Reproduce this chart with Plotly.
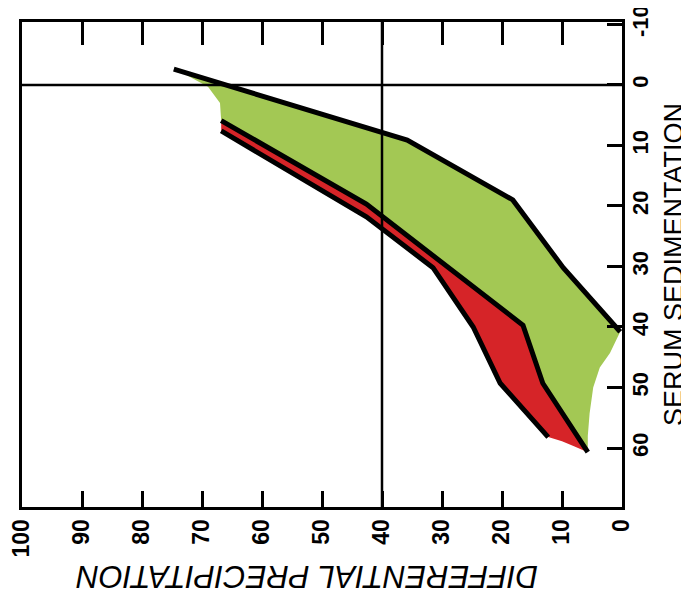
import plotly.graph_objects as go

# ---- data (precipitation %, serum sedimentation) ----
upper_p = [74.7, 35.8, 18.2, 9.8, 0.3]
upper_s = [-2.6, 9.1, 19.0, 30.2, 40.8]

mid_p = [66.8, 42.6, 16.5, 13.2, 5.7]
mid_s = [5.9, 19.7, 39.7, 49.3, 60.7]

low_p = [66.8, 42.6, 31.5, 24.8, 20.3, 12.3]
low_s = [7.6, 21.8, 30.2, 40.0, 49.3, 58.2]

green_left_p = [73.3, 69.0, 67.0]
green_left_s = [-2.0, 0.3, 3.0]
green_right_p = [2.0, 3.7, 4.8, 5.4, 5.7]
green_right_s = [44.3, 46.7, 50.0, 54.3, 58.0]
red_end_p = [10.0, 8.0]
red_end_s = [58.9, 59.7]

x_ticks = list(range(0, 101, 10))
y_ticks = list(range(-10, 61, 10))
y_ticktext = [str(v) for v in y_ticks]
ref_p = 40
ref_s = 0

GREEN = "rgb(163,200,84)"
RED = "rgb(214,36,40)"

gx = [green_left_p[0]] + upper_p[1:] + green_right_p + mid_p[::-1] + green_left_p[::-1][:-1]
gy = [green_left_s[0]] + upper_s[1:] + green_right_s + mid_s[::-1] + green_left_s[::-1][:-1]

rx = mid_p + red_end_p[::-1] + low_p[::-1]
ry = mid_s + red_end_s[::-1] + low_s[::-1]

fig = go.Figure()
fig.add_trace(go.Scatter(x=gx, y=gy, fill="toself", fillcolor=GREEN, mode="none", hoverinfo="skip"))
fig.add_trace(go.Scatter(x=rx, y=ry, fill="toself", fillcolor=RED, mode="none", hoverinfo="skip"))
for px, sy in [(upper_p, upper_s), (mid_p, mid_s), (low_p, low_s)]:
    fig.add_trace(go.Scatter(x=px, y=sy, mode="lines",
                             line=dict(color="black", width=5), hoverinfo="skip"))
fig.add_trace(go.Scatter(x=[None], y=[None], xaxis="x2", mode="lines", hoverinfo="skip"))

fig.add_vline(x=ref_p, line=dict(color="black", width=2.5), layer="above")
fig.add_hline(y=ref_s, line=dict(color="black", width=2.5), layer="above")

fnt = "Liberation Sans, Arial, sans-serif"
# page body has an 8px margin: figure is sized so it ends at the window edge
fig.update_layout(
    width=681, height=588,
    margin=dict(l=14, r=67, t=14, b=89),
    paper_bgcolor="white", plot_bgcolor="white",
    showlegend=False,
    xaxis=dict(range=[100, 0], tickvals=x_ticks, ticks="inside", ticklen=16,
               tickwidth=3, tickcolor="black", showline=True, linewidth=3,
               linecolor="black", mirror=True, tickangle=-90, showgrid=False,
               zeroline=False, ticklabelstandoff=0, automargin=False,
               ticklabeloverflow="allow",
               tickfont=dict(family=fnt, size=23, color="black", weight="bold")),
    xaxis2=dict(range=[100, 0], overlaying="x", side="top", tickvals=x_ticks,
                ticks="inside", ticklen=23, tickwidth=3, tickcolor="black",
                showticklabels=False, showline=False, showgrid=False, zeroline=False,
                automargin=False),
    yaxis=dict(range=[69.75, -10.4], side="right", tickvals=y_ticks, ticktext=y_ticktext,
               ticks="inside", ticklen=15, tickwidth=3, tickcolor="black",
               showline=True, linewidth=3, linecolor="black", mirror=True,
               tickangle=-90, showgrid=False, zeroline=False, ticklabelstandoff=-3,
               automargin=False, ticklabeloverflow="allow",
               tickfont=dict(family=fnt, size=22, color="black", weight="bold")),
    annotations=[
        dict(text="SERUM SEDIMENTATION", xref="paper", yref="paper", x=1.086, y=0.5,
             textangle=-90, showarrow=False, xanchor="center", yanchor="middle",
             font=dict(family=fnt, size=27, color="black")),
        dict(text="DIFFERENTIAL PRECIPITATION", xref="paper", yref="paper", x=0.475, y=-0.142,
             textangle=180, showarrow=False, xanchor="center", yanchor="middle",
             font=dict(family=fnt, size=31, color="black", style="italic")),
    ],
)

fig.write_html("out.html")
